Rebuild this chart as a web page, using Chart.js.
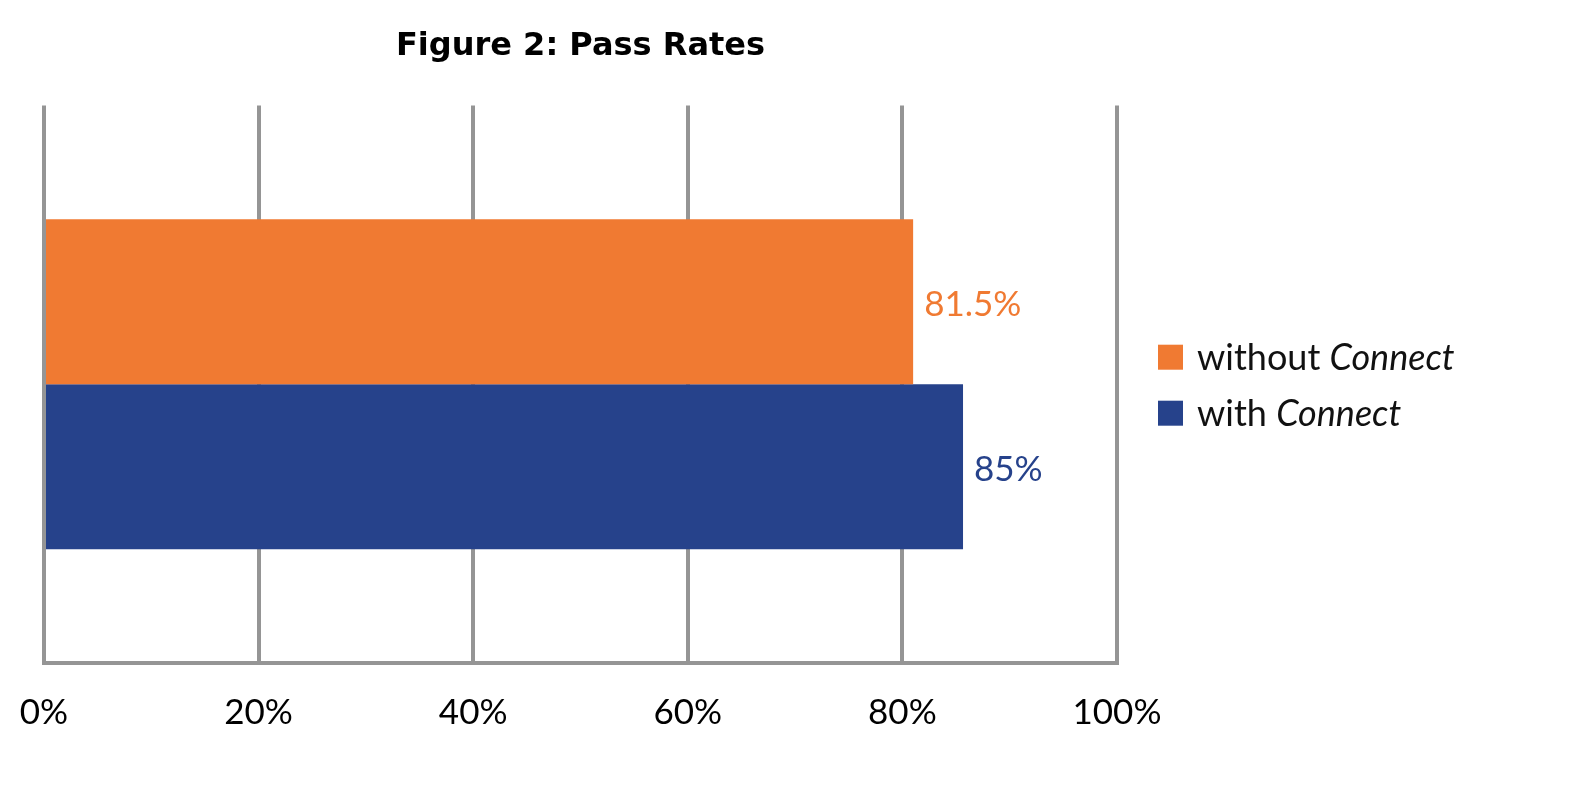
<!DOCTYPE html>
<html>
<head>
<meta charset="utf-8">
<title>Figure 2: Pass Rates</title>
<script src="https://cdn.jsdelivr.net/npm/chart.js@4.4.1/dist/chart.umd.min.js"></script>
<style>
  html, body { margin: 0; padding: 0; background: #fff; }
  #wrap { position: relative; width: 1580px; height: 790px; }
</style>
</head>
<body>
<div id="wrap"><canvas id="chart"></canvas></div>
<script>
// data
var categories = [""];
var seriesNames = ["without", "with"];      // legend, plain part
var seriesItalic = ["Connect", "Connect"];   // legend, italic part
var barValues = [81.0, 85.65];               // bar lengths as drawn
var valueLabels = ["81.5%", "85%"];          // printed next to bars
var tickValues = [0, 20, 40, 60, 80, 100];
var colors = ["#F07A32", "#26428B"];

var FONT = "Lato";
var chart;

// label at the end of each bar
var barLabels = {
    id: "barLabels",
    afterDatasetsDraw: function (c) {
        var ctx = c.ctx;
        ctx.save();
        ctx.font = "35px " + FONT;
        ctx.textAlign = "left";
        ctx.textBaseline = "middle";
        c.data.datasets.forEach(function (ds, i) {
            var bar = c.getDatasetMeta(i).data[0];
            ctx.fillStyle = colors[i];
            ctx.fillText(valueLabels[i], bar.x + 11, bar.y + 3);
        });
        ctx.restore();
    }
};

// legend on the right, with the italic word
var sideLegend = {
    id: "sideLegend",
    afterDraw: function (c) {
        var ctx = c.ctx;
        var area = c.chartArea;
        var x = area.right + 41;
        var mid = (area.top + area.bottom) / 2;
        var step = 56;
        ctx.save();
        ctx.textBaseline = "middle";
        ctx.textAlign = "left";
        for (var i = 0; i < seriesNames.length; i++) {
            var cy = mid - step / 2 + i * step + 1;
            ctx.fillStyle = colors[i];
            ctx.fillRect(x, cy - 12.5, 25, 25);
            ctx.fillStyle = "#111";
            ctx.font = "36px " + FONT;
            var t = seriesNames[i] + " ";
            ctx.fillText(t, x + 39, cy + 1);
            var w = ctx.measureText(t).width;
            ctx.font = "italic 36px " + FONT;
            ctx.fillText(seriesItalic[i], x + 39 + w, cy + 1);
        }
        ctx.restore();
    }
};

function setup() {
    var canvas = document.getElementById("chart");
    chart = new Chart(canvas, {
        type: "bar",
        data: {
            labels: categories,
            datasets: seriesNames.map(function (name, i) {
                return {
                    label: name + " " + seriesItalic[i],
                    data: [barValues[i]],
                    backgroundColor: colors[i],
                    borderWidth: 0,
                    barPercentage: 1,
                    categoryPercentage: 0.592
                };
            })
        },
        options: {
            indexAxis: "y",
            responsive: true,
            maintainAspectRatio: false,
            animation: false,
            layout: { padding: { left: 44, right: 463, top: 0, bottom: 27 } },
            plugins: {
                legend: { display: false },
                tooltip: { enabled: false },
                title: {
                    display: true,
                    text: "Figure 2: Pass Rates",
                    color: "#000",
                    font: { family: "DejaVu Sans", size: 32, weight: "bold", lineHeight: 1.2 },
                    padding: { top: 27, bottom: 40 }
                }
            },
            scales: {
                x: {
                    min: 0,
                    max: 100,
                    afterBuildTicks: function (axis) {
                        axis.ticks = tickValues.map(function (v) { return { value: v }; });
                    },
                    // labels have room in the layout padding, keep the plot edge fixed
                    afterFit: function (axis) {
                        axis.paddingLeft = 0;
                        axis.paddingRight = 0;
                    },
                    grid: { color: "#959595", lineWidth: 4, drawTicks: false },
                    border: { display: true, color: "#959595", width: 4 },
                    ticks: {
                        color: "#000",
                        padding: 29,
                        font: { family: FONT, size: 35 },
                        maxRotation: 0,
                        callback: function (v) { return v + "%"; }
                    }
                },
                y: {
                    display: false,
                    grid: { display: false }
                }
            }
        },
        plugins: [barLabels, sideLegend]
    });
}

setup();
</script>
</body>
</html>
